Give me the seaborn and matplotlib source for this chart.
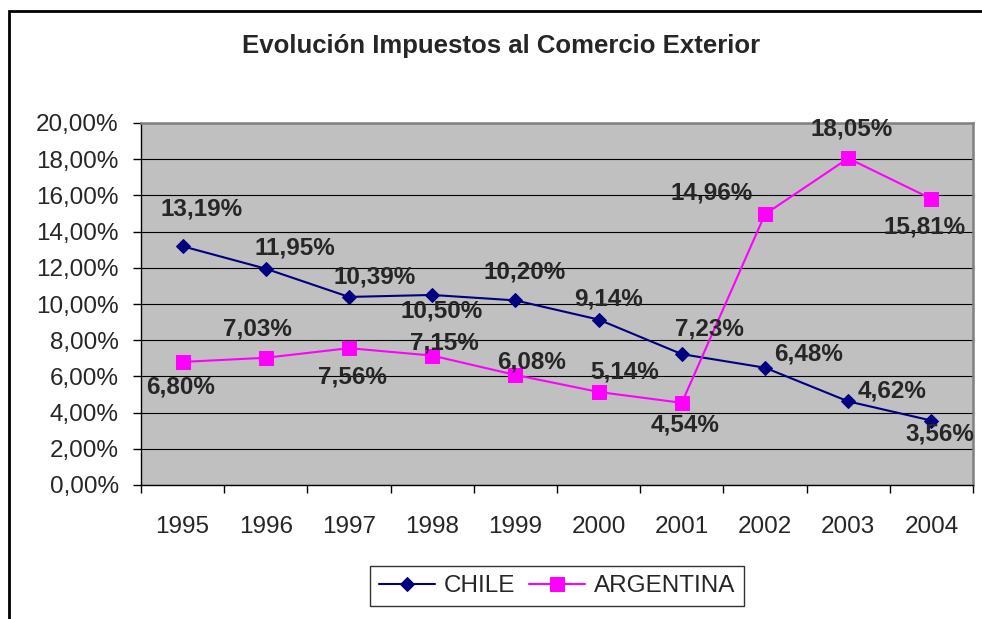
import pandas as pd
import matplotlib
matplotlib.use('Agg')
import matplotlib.pyplot as plt
from matplotlib.patches import Rectangle
import seaborn as sns

years = ['1995', '1996', '1997', '1998', '1999', '2000', '2001', '2002', '2003', '2004']
chile = [13.19, 11.95, 10.39, 10.50, 10.20, 9.14, 7.23, 6.48, 4.62, 3.56]
argentina = [6.80, 7.03, 7.56, 7.15, 6.08, 5.14, 4.54, 14.96, 18.05, 15.81]

# label offsets in pixels (dx right, dy down), as placed in the original
chile_off = [(19, -37), (29, -21), (26, -20), (9, 16), (9, -28),
             (10, -21), (28, -25), (44, -14), (44, -10), (9, 13)]
arg_off = [(-2, 25), (-8, -29), (3, 29), (12, -13), (16, -13),
           (26, -20), (3, 22), (-53, -21), (3, -29), (-7, 28)]

sns.set_style('white')
plt.rcParams['font.family'] = ['Liberation Sans', 'DejaVu Sans']

W, H = 982, 619
fig = plt.figure(figsize=(W / 100, H / 100), dpi=100)
ax = fig.add_axes([141 / W, (H - 485) / H, 832 / W, 362 / H])
ax.set_facecolor('#C0C0C0')

df = pd.DataFrame({'pos': range(len(years)), 'CHILE': chile, 'ARGENTINA': argentina})

sns.lineplot(data=df, x='pos', y='CHILE', ax=ax, color='#000080', marker='D',
             markersize=7.5, markeredgecolor='#000080', linewidth=1.5, label='CHILE')
sns.lineplot(data=df, x='pos', y='ARGENTINA', ax=ax, color='#FF00FF', marker='s',
             markersize=9.5, markeredgecolor='#FF00FF', linewidth=1.5, label='ARGENTINA')

handles, labels = ax.get_legend_handles_labels()
ax.get_legend().remove()

ax.set_xlim(-0.5, len(years) - 0.5)
ax.set_ylim(0, 20)
ax.set_xlabel('')
ax.set_ylabel('')

yt = list(range(0, 21, 2))
ax.set_yticks(yt)
ax.set_yticklabels([f'{v:.2f}%'.replace('.', ',') for v in yt], fontsize=17.5)
ax.tick_params(axis='y', direction='out', length=6, width=1, color='black', pad=10, left=True)

ax.set_xticks(range(len(years)))
ax.set_xticklabels(years, fontsize=17.5)
ax.set_xticks([i - 0.5 for i in range(len(years) + 1)], minor=True)
ax.tick_params(axis='x', which='major', length=0, pad=22)
ax.tick_params(axis='x', which='minor', direction='out', length=6, width=1, color='black', bottom=True)

ax.yaxis.grid(True, color='black', linewidth=0.8)
ax.xaxis.grid(False)
ax.set_axisbelow(True)

for s in ['top', 'right']:
    ax.spines[s].set_color('#808080')
    ax.spines[s].set_linewidth(1.8)
for s in ['left', 'bottom']:
    ax.spines[s].set_color('black')
    ax.spines[s].set_linewidth(1.0)

for vals, offs in [(chile, chile_off), (argentina, arg_off)]:
    for i, (v, (dx, dy)) in enumerate(zip(vals, offs)):
        ax.annotate(f'{v:.2f}%'.replace('.', ','), (i, v),
                    xytext=(dx * 0.72, -dy * 0.72), textcoords='offset points',
                    ha='center', va='center', fontsize=17.5, fontweight='bold',
                    annotation_clip=False)

fig.text(501 / W, 1 - 46 / H, 'Evolución Impuestos al Comercio Exterior',
         ha='center', va='center', fontsize=18.5, fontweight='bold')

leg = fig.legend(handles, labels, loc='center', bbox_to_anchor=(557 / W, 1 - 586 / H),
                 ncol=2, fontsize=17.5, frameon=True, fancybox=False,
                 handlelength=2.3, handletextpad=0.35, columnspacing=0.6,
                 borderpad=0.35, borderaxespad=0)
leg.get_frame().set_edgecolor('black')
leg.get_frame().set_linewidth(1.0)

border = Rectangle((9 / W, -0.05), 1.2, (H - 10.5) / H + 0.05, transform=fig.transFigure,
                   fill=False, edgecolor='black', linewidth=2, clip_on=False)
fig.add_artist(border)

fig.savefig('out.png', dpi=100)
